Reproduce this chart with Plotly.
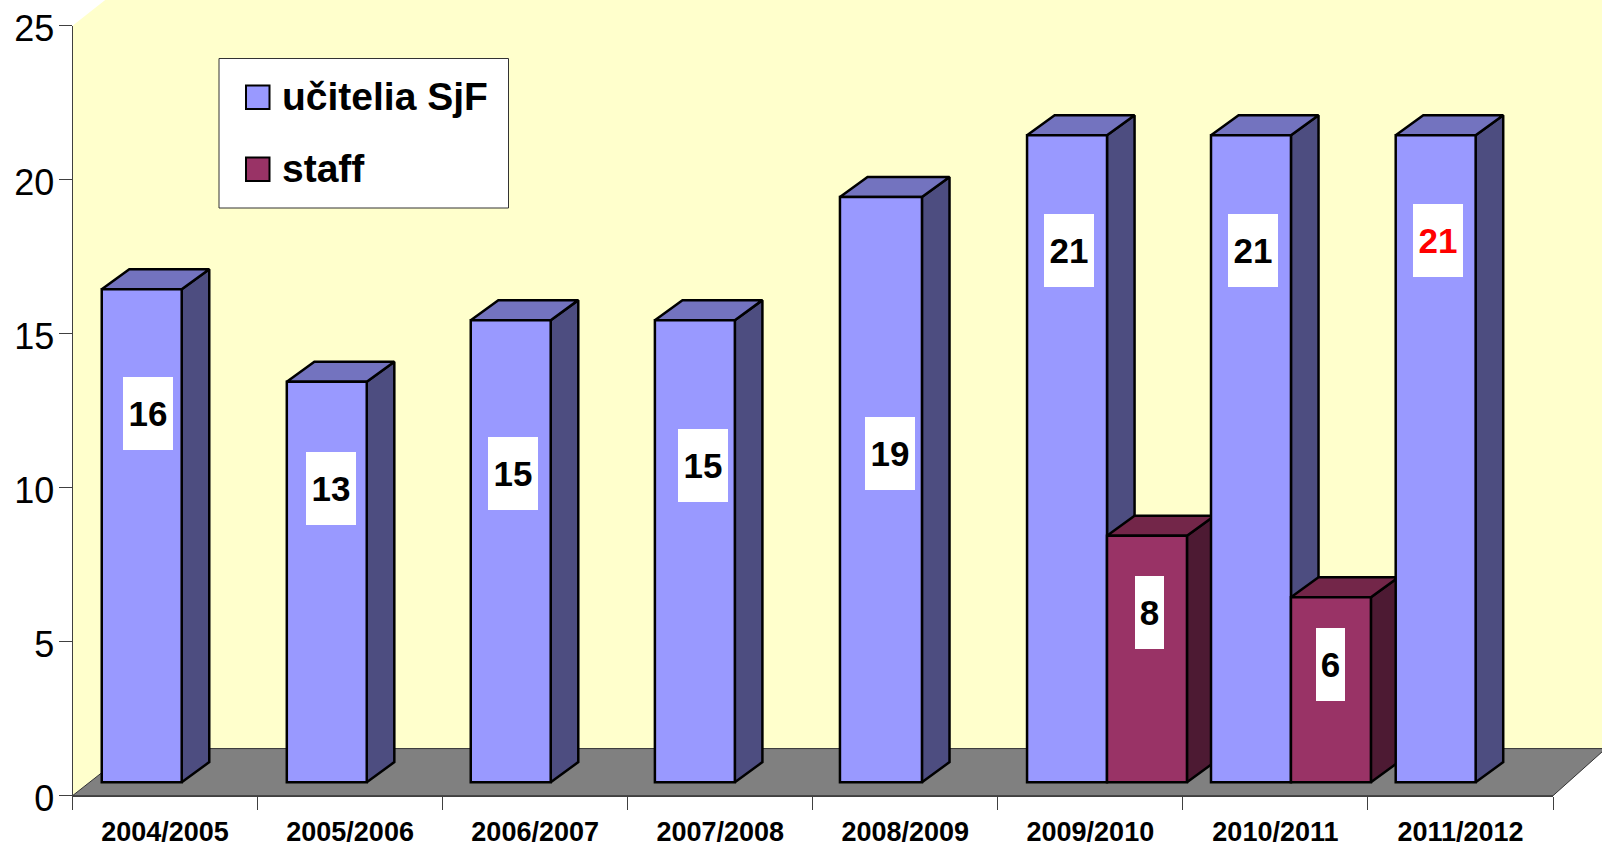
import plotly.graph_objects as go

# ---- data ----
years = ["2004/2005", "2005/2006", "2006/2007", "2007/2008",
         "2008/2009", "2009/2010", "2010/2011", "2011/2012"]
ucitelia = [16, 13, 15, 15, 19, 21, 21, 21]
staff = [None, None, None, None, None, 8, 6, None]
y_ticks = [0, 5, 10, 15, 20, 25]

# where the (manually placed) data labels sit, in axis units
label_x_ucitelia = [-0.094, 0.899, 1.882, 2.908, 3.916, 4.885, 5.878, 6.877]
label_y_ucitelia = [12.42, 9.98, 10.46, 10.72, 11.12, 17.69, 17.69, 18.02]
label_color_ucitelia = ["black"] * 7 + ["#FF0000"]
label_x_staff = [None] * 5 + [5.318, 6.295, None]
label_y_staff = [None] * 5 + [5.95, 4.25, None]

# ---- page geometry ----
W, H = 1602, 847
AX_L, AX_R, AX_B, AX_T = 72.5, 1553.0, 795.7, 25.7   # px
UX = (AX_R - AX_L) / len(years)    # px per category
UY = (AX_B - AX_T) / 25            # px per value unit

# ---- 3D projection, in axis units ----
FLOOR_DX_L, FLOOR_DX_R, FLOOR_DY = 0.324, 0.285, 1.53
BAR_BASE = 0.44
BAR_W = 0.432
# left edge of each cluster inside its category (the original is slightly uneven)
BAR_OFFSETS = [0.158, 0.158, 0.152, 0.147, 0.147, 0.158, 0.152, 0.150]
BAR_WIDTHS_U = [BAR_W, BAR_W, BAR_W, BAR_W, BAR_W + 0.011, BAR_W, BAR_W, BAR_W]
DEPTH_X, DEPTH_Y = 0.149, 0.65
LINE_W = 2.5

BLUE, BLUE_SIDE, BLUE_TOP = "#9999FF", "#4D4D80", "#7373BF"
WINE, WINE_SIDE, WINE_TOP = "#993366", "#4D1A33", "#732649"
FONT = "Liberation Sans, Arial, sans-serif"

x_lo = -0.5 - AX_L / UX
x_hi = -0.5 + (W - AX_L) / UX
y_lo = -(H - AX_B) / UY
y_hi = AX_B / UY
left, right = -0.5, len(years) - 0.5

offs_u = [o - 0.5 for o in BAR_OFFSETS]
offs_s = [o - 0.5 + BAR_W for o in BAR_OFFSETS]


def faces(values, offsets, widths):
    sx, sy, tx, ty = [], [], [], []
    for i, v in enumerate(values):
        if v is None:
            continue
        xl = i + offsets[i]
        xr = xl + widths[i]
        top = BAR_BASE + v
        sx += [xr, xr + DEPTH_X, xr + DEPTH_X, xr, xr, None]
        sy += [BAR_BASE, BAR_BASE + DEPTH_Y, top + DEPTH_Y, top, BAR_BASE, None]
        tx += [xl, xl + DEPTH_X, xr + DEPTH_X, xr, xl, None]
        ty += [top, top + DEPTH_Y, top + DEPTH_Y, top, top, None]
    return sx, sy, tx, ty


def poly(x, y, fill, line=None, width=LINE_W):
    return go.Scatter(x=x, y=y, mode="lines", fill="toself", fillcolor=fill,
                      line=dict(color=line or fill, width=width if line else 0),
                      hoverinfo="skip", showlegend=False, xaxis="x", yaxis="y")


fig = go.Figure()

# walls and floor
fig.add_trace(poly(
    [left, left, left + FLOOR_DX_L * 3, x_hi + 1, x_hi + 1, left + FLOOR_DX_L, left],
    [0, 25, 25 + FLOOR_DY * 3, 25 + FLOOR_DY * 3, FLOOR_DY, FLOOR_DY, 0],
    "#FFFFCC"))
fig.add_trace(poly(
    [left, right, right + FLOOR_DX_R, left + FLOOR_DX_L, left],
    [0, 0, FLOOR_DY, FLOOR_DY, 0],
    "#808080", "#333333", 1))

# sides and tops of the bars
staff_widths = [BAR_W] * len(years)
for vals, offs, wid, cs, ct in [(ucitelia, offs_u, BAR_WIDTHS_U, BLUE_SIDE, BLUE_TOP),
                                (staff, offs_s, staff_widths, WINE_SIDE, WINE_TOP)]:
    sx, sy, tx, ty = faces(vals, offs, wid)
    fig.add_trace(poly(sx, sy, cs, "black"))
    fig.add_trace(poly(tx, ty, ct, "black"))

# front faces, on the visible axes
for name, vals, offs, wid, color in [("učitelia SjF", ucitelia, offs_u, BAR_WIDTHS_U, BLUE),
                                     ("staff", staff, offs_s, staff_widths, WINE)]:
    fig.add_trace(go.Bar(
        x=years, y=vals, base=BAR_BASE, name=name,
        width=wid, offset=offs,
        marker=dict(color=color, line=dict(color="black", width=LINE_W)),
        hoverinfo="skip", showlegend=False, xaxis="x2", yaxis="y2"))

annotations = []


def label(x, y, text, color, w):
    annotations.append(dict(
        x=x, y=y, xref="x2", yref="y2", text=f"<b>{text}</b>", showarrow=False,
        width=w, height=73, bgcolor="white", borderpad=0, borderwidth=0,
        align="center", valign="middle",
        font=dict(family=FONT, size=35, color=color)))


for x, y, v, c in zip(label_x_ucitelia, label_y_ucitelia, ucitelia, label_color_ucitelia):
    label(x, y, v, c, 50)
for x, y, v in zip(label_x_staff, label_y_staff, staff):
    if v is not None:
        label(x, y, v, "black", 29)

# legend box
def px(v):
    return v / W


def py(v):
    return 1 - v / H


shapes = [
    dict(type="rect", xref="paper", yref="paper", x0=px(219), x1=px(508.5), y0=py(208), y1=py(58.5),
         fillcolor="white", line=dict(color="#333333", width=1)),
    dict(type="rect", xref="paper", yref="paper", x0=px(246), x1=px(269.5), y0=py(109), y1=py(85.5),
         fillcolor=BLUE, line=dict(color="black", width=2)),
    dict(type="rect", xref="paper", yref="paper", x0=px(246), x1=px(269.5), y0=py(181), y1=py(157.5),
         fillcolor=WINE, line=dict(color="black", width=2)),
]
for text, yc in [("učitelia SjF", 97), ("staff", 168)]:
    annotations.append(dict(
        x=px(280), y=py(yc), xref="paper", yref="paper", xanchor="left", yanchor="middle",
        text=f"<b>{text}</b>", showarrow=False, font=dict(family=FONT, size=39, color="black")))

axis_color = "#404040"
fig.update_layout(
    width=W, height=H, autosize=False,
    margin=dict(l=0, r=0, t=0, b=0, pad=0),
    paper_bgcolor="white", plot_bgcolor="rgba(0,0,0,0)",
    showlegend=False, barmode="overlay",
    annotations=annotations, shapes=shapes,
    font=dict(family=FONT, color="black"),
    xaxis=dict(domain=[0, 1], range=[x_lo, x_hi], visible=False, fixedrange=True, automargin=False),
    yaxis=dict(domain=[0, 1], range=[y_lo, y_hi], visible=False, fixedrange=True, automargin=False),
    xaxis2=dict(domain=[AX_L / W, AX_R / W], anchor="y2", type="category",
                categoryorder="array", categoryarray=years,
                range=[left, right], tickson="boundaries", automargin=False,
                ticks="outside", ticklen=13, tickwidth=1, tickcolor=axis_color,
                showline=True, linecolor=axis_color, linewidth=1, showgrid=False,
                tickangle=0, fixedrange=True, ticklabelstandoff=12,
                tickfont=dict(family=FONT, size=27, color="black", weight="bold")),
    yaxis2=dict(domain=[1 - AX_B / H, 1 - AX_T / H], anchor="x2", automargin=False,
                range=[0, 25], tickvals=y_ticks,
                ticks="outside", ticklen=13, tickwidth=1, tickcolor=axis_color,
                showline=True, linecolor=axis_color, linewidth=1,
                showgrid=False, zeroline=False, fixedrange=True,
                ticklabelstandoff=-3, ticklabelshift=3,
                tickfont=dict(family=FONT, size=36, color="black")),
)

fig.write_html("out.html", config=dict(displayModeBar=False, responsive=False),
               post_script="document.body.style.margin='0';document.documentElement.style.overflow='hidden';")
